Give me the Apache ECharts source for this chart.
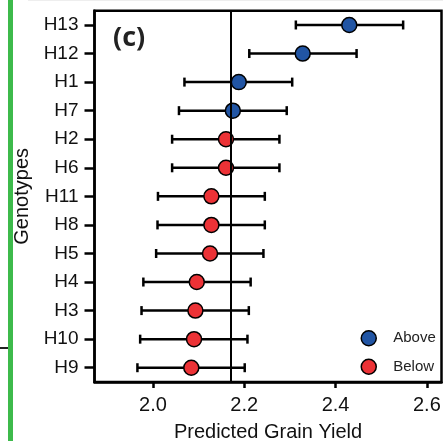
<!DOCTYPE html>
<html lang="en">
<head>
    <meta charset="UTF-8">
    <title>Predicted Grain Yield</title>
    <style>
        html, body { margin: 0; padding: 0; background: #fff; }
        #main { width: 443px; height: 441px; }
    </style>
</head>
<body>
<div id="main"></div>
<script src="https://cdn.jsdelivr.net/npm/echarts@6/dist/echarts.min.js"></script>
<script>
    // 数据
    var genotypes = ['H13', 'H12', 'H1', 'H7', 'H2', 'H6', 'H11', 'H8', 'H5', 'H4', 'H3', 'H10', 'H9'];
    var means = [2.430, 2.328, 2.188, 2.175, 2.160, 2.160, 2.128, 2.128, 2.125, 2.096, 2.093, 2.090, 2.084];
    var lower = [2.313, 2.211, 2.069, 2.057, 2.042, 2.042, 2.011, 2.010, 2.007, 1.979, 1.975, 1.972, 1.966];
    var upper = [2.548, 2.446, 2.305, 2.293, 2.277, 2.277, 2.245, 2.245, 2.242, 2.214, 2.210, 2.207, 2.201];
    var groups = ['Above', 'Above', 'Above', 'Above', 'Below', 'Below', 'Below', 'Below', 'Below', 'Below', 'Below', 'Below', 'Below'];
    var threshold = 2.167;
    var xTicks = [2.0, 2.2, 2.4, 2.6];

    var font = 'Liberation Sans';
    var myChart = echarts.init(document.getElementById('main'));

    function pointsOf(g) {
        var out = [];
        for (var i = 0; i < genotypes.length; i++) {
            if (groups[i] === g) out.push([means[i], genotypes[i]]);
        }
        return out;
    }

    var errData = genotypes.map(function (name, i) {
        return [lower[i], upper[i], name];
    });

    var option = {
        animation: false,
        title: {
            text: '(c)',
            left: 108,
            top: 20,
            textStyle: {fontFamily: 'Open Sans', fontWeight: 'bold', fontSize: 27, color: '#222'}
        },
        legend: {
            orient: 'vertical',
            left: 355.5,
            top: 325,
            itemGap: 12,
            itemWidth: 15,
            itemHeight: 15,
            icon: 'circle',
            itemStyle: {borderColor: '#000', borderWidth: 1.5},
            textStyle: {fontFamily: font, fontSize: 15, color: '#222', padding: [0, 0, 0, 12]},
            data: ['Above', 'Below']
        },
        grid: {
            left: 94.5, right: 1.5, top: 10.7, bottom: 59,
            show: true, borderColor: '#000', borderWidth: 2.5,
            containLabel: false,
            outerBoundsMode: 'none'
        },
        xAxis: {
            type: 'value',
            min: 1.872,
            max: 2.632,
            name: 'Predicted Grain Yield',
            nameLocation: 'middle',
            nameGap: 40,
            nameTextStyle: {fontFamily: font, fontSize: 20, color: '#111'},
            splitLine: {show: false},
            axisLine: {show: true, lineStyle: {color: '#000', width: 2.5}},
            axisTick: {show: true, customValues: xTicks, length: 6, lineStyle: {color: '#000', width: 2.5}},
            axisLabel: {
                customValues: xTicks,
                margin: 13,
                fontFamily: font, fontSize: 20, color: '#111',
                formatter: function (v) { return v.toFixed(1); }
            }
        },
        yAxis: {
            type: 'category',
            inverse: true,
            data: genotypes,
            name: 'Genotypes',
            nameLocation: 'middle',
            nameGap: 55,
            nameTextStyle: {fontFamily: font, fontSize: 20, color: '#111'},
            axisLine: {show: true, lineStyle: {color: '#000', width: 2.5}},
            axisTick: {show: true, alignWithLabel: true, length: 10, lineStyle: {color: '#000', width: 2.5}},
            axisLabel: {margin: 16, fontFamily: font, fontSize: 19, color: '#111'},
            splitLine: {show: false}
        },
        graphic: [
            {type: 'rect', shape: {x: 8, y: 0, width: 5, height: 441}, style: {fill: '#3dba4b'}},
            {type: 'line', shape: {x1: 0, y1: 348, x2: 8, y2: 348}, style: {stroke: '#222', lineWidth: 2}},
            {type: 'line', shape: {x1: 28, y1: 0.5, x2: 443, y2: 0.5}, style: {stroke: '#eee', lineWidth: 1}}
        ],
        series: [
            {
                name: 'err',
                type: 'custom',
                z: 2,
                encode: {x: [0, 1], y: 2},
                data: errData,
                renderItem: function (params, api) {
                    var a = api.coord([api.value(0), api.value(2)]);
                    var b = api.coord([api.value(1), api.value(2)]);
                    var h = 4.5;
                    var st = {stroke: '#000', lineWidth: 2.5};
                    return {
                        type: 'group',
                        children: [
                            {type: 'line', shape: {x1: a[0], y1: a[1], x2: b[0], y2: b[1]}, style: st},
                            {type: 'line', shape: {x1: a[0], y1: a[1] - h, x2: a[0], y2: a[1] + h}, style: st},
                            {type: 'line', shape: {x1: b[0], y1: b[1] - h, x2: b[0], y2: b[1] + h}, style: st}
                        ]
                    };
                }
            },
            {
                name: 'Above',
                type: 'scatter',
                z: 3,
                symbolSize: 15,
                itemStyle: {color: '#2155a4', borderColor: '#000', borderWidth: 1.5, opacity: 1},
                data: pointsOf('Above')
            },
            {
                name: 'Below',
                type: 'scatter',
                z: 3,
                symbolSize: 15,
                itemStyle: {color: '#ec3236', borderColor: '#000', borderWidth: 1.5, opacity: 1},
                data: pointsOf('Below'),
                markLine: {
                    silent: true,
                    symbol: ['none', 'none'],
                    label: {show: false},
                    lineStyle: {color: '#000', width: 2, type: 'solid'},
                    data: [{xAxis: threshold}]
                }
            }
        ]
    };

    myChart.setOption(option);
</script>
</body>
</html>
